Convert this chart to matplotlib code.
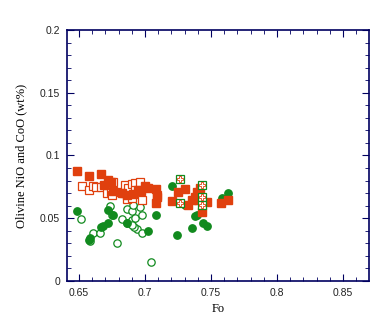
import matplotlib
matplotlib.use('Agg')
import matplotlib.pyplot as plt
from matplotlib.ticker import MultipleLocator, FixedLocator

# orange filled squares
fo_sq = [0.6489, 0.6578, 0.6667, 0.6689, 0.6720, 0.6742, 0.6760, 0.6826, 0.6861, 0.6909,
         0.6947, 0.6970, 0.7000, 0.7025, 0.7083, 0.7089, 0.7087, 0.7207, 0.7252, 0.7303,
         0.7328, 0.7354, 0.7379, 0.7392, 0.7404, 0.7417, 0.7434, 0.7467, 0.7576, 0.7631]
ni_sq = [0.0876, 0.0837, 0.0853, 0.0765, 0.0805, 0.0789, 0.0717, 0.0701, 0.0685, 0.0693,
         0.0725, 0.0717, 0.0757, 0.0739, 0.0731, 0.0672, 0.0619, 0.0637, 0.0712, 0.0731,
         0.0606, 0.0645, 0.0672, 0.0709, 0.0645, 0.0739, 0.0552, 0.0632, 0.0619, 0.0645]

# orange open squares
fo_osq = [0.6520, 0.6578, 0.6608, 0.6629, 0.6667, 0.6710, 0.6742, 0.6755, 0.6798, 0.6843,
          0.6848, 0.6873, 0.6861, 0.6899, 0.6924, 0.6924, 0.6962, 0.6899, 0.6975, 0.7089, 0.6748]
ni_osq = [0.0757, 0.0725, 0.0757, 0.0747, 0.0751, 0.0699, 0.0712, 0.0791, 0.0712, 0.0699,
          0.0765, 0.0743, 0.0651, 0.0773, 0.0778, 0.0725, 0.0791, 0.0659, 0.0645, 0.0685, 0.0685]

# squares with grid
fo_grid = [0.7265, 0.7265, 0.7436, 0.7436, 0.7436]
ni_grid = [0.0810, 0.0619, 0.0765, 0.0673, 0.0602]

# green filled circles
fo_ci = [0.6489, 0.6722, 0.6760, 0.6717, 0.6684, 0.6667, 0.6583, 0.6576, 0.6861, 0.7087,
         0.7025, 0.7202, 0.7245, 0.7303, 0.7354, 0.7379, 0.7392, 0.7442, 0.7467, 0.7580, 0.7631]
co_ci = [0.0554, 0.0566, 0.0522, 0.0465, 0.0438, 0.0428, 0.0340, 0.0327, 0.0465, 0.0526,
         0.0402, 0.0757, 0.0367, 0.0602, 0.0420, 0.0514, 0.0526, 0.0462, 0.0438, 0.0659, 0.0699]

# green open circles
fo_oci = [0.6513, 0.6608, 0.6659, 0.6583, 0.6739, 0.6748, 0.6823, 0.6861, 0.6899, 0.6861,
          0.6899, 0.6924, 0.6937, 0.6975, 0.6962, 0.6975, 0.6790, 0.7043, 0.6917, 0.6899, 0.6909]
co_oci = [0.0492, 0.0382, 0.0380, 0.0319, 0.0594, 0.0526, 0.0492, 0.0571, 0.0558, 0.0465,
          0.0486, 0.0500, 0.0412, 0.0380, 0.0587, 0.0526, 0.0300, 0.0149, 0.0433, 0.0446, 0.0606]

orange = '#e0400e'
green = '#118a1e'
navy = '#000060'

fig = plt.figure(figsize=(3.83, 3.27), dpi=100)
ax = fig.add_axes([0.175, 0.1407, 0.7884, 0.7676])

ax.plot(fo_oci, co_oci, 'o', mfc='white', mec=green, mew=0.9, ms=5.3)
ax.plot(fo_ci, co_ci, 'o', color=green, ms=5.3)
ax.plot(fo_osq, ni_osq, 's', mfc='white', mec=orange, mew=0.9, ms=5.3)
ax.plot(fo_sq, ni_sq, 's', color=orange, ms=5.3)
ax.plot(fo_grid, ni_grid, 's', mfc='white', mec=green, mew=0.9, ms=5.3)
ax.plot(fo_grid, ni_grid, 'P', mfc='none', mec=orange, mew=0.6, ms=4.5)

ax.set_xlim(0.641, 0.8697)
ax.set_ylim(0, 0.2)
ax.xaxis.set_major_locator(FixedLocator([0.65, 0.7, 0.75, 0.8, 0.85]))
ax.xaxis.set_minor_locator(MultipleLocator(0.01))
ax.yaxis.set_major_locator(FixedLocator([0, 0.05, 0.1, 0.15, 0.2]))
ax.yaxis.set_minor_locator(MultipleLocator(0.01))
ax.set_yticklabels(['0', '0.05', '0.1', '0.15', '0.2'])
ax.set_xticklabels(['0.65', '0.7', '0.75', '0.8', '0.85'])

ax.tick_params(which='both', direction='in', top=True, right=True, color=navy,
               labelsize=7.5, pad=5, labelcolor='#222222')
ax.tick_params(which='major', length=5)
ax.tick_params(which='minor', length=3)
for lab in ax.get_xticklabels() + ax.get_yticklabels():
    lab.set_family('Liberation Sans')
for s in ax.spines.values():
    s.set_color(navy)
    s.set_linewidth(1.2)

ax.set_xlabel('Fo', family='Liberation Serif', fontsize=9)
ax.set_ylabel('Olivine NiO and CoO (wt%)', family='Liberation Serif', fontsize=9, labelpad=9)

fig.savefig('out.png', dpi=100)
